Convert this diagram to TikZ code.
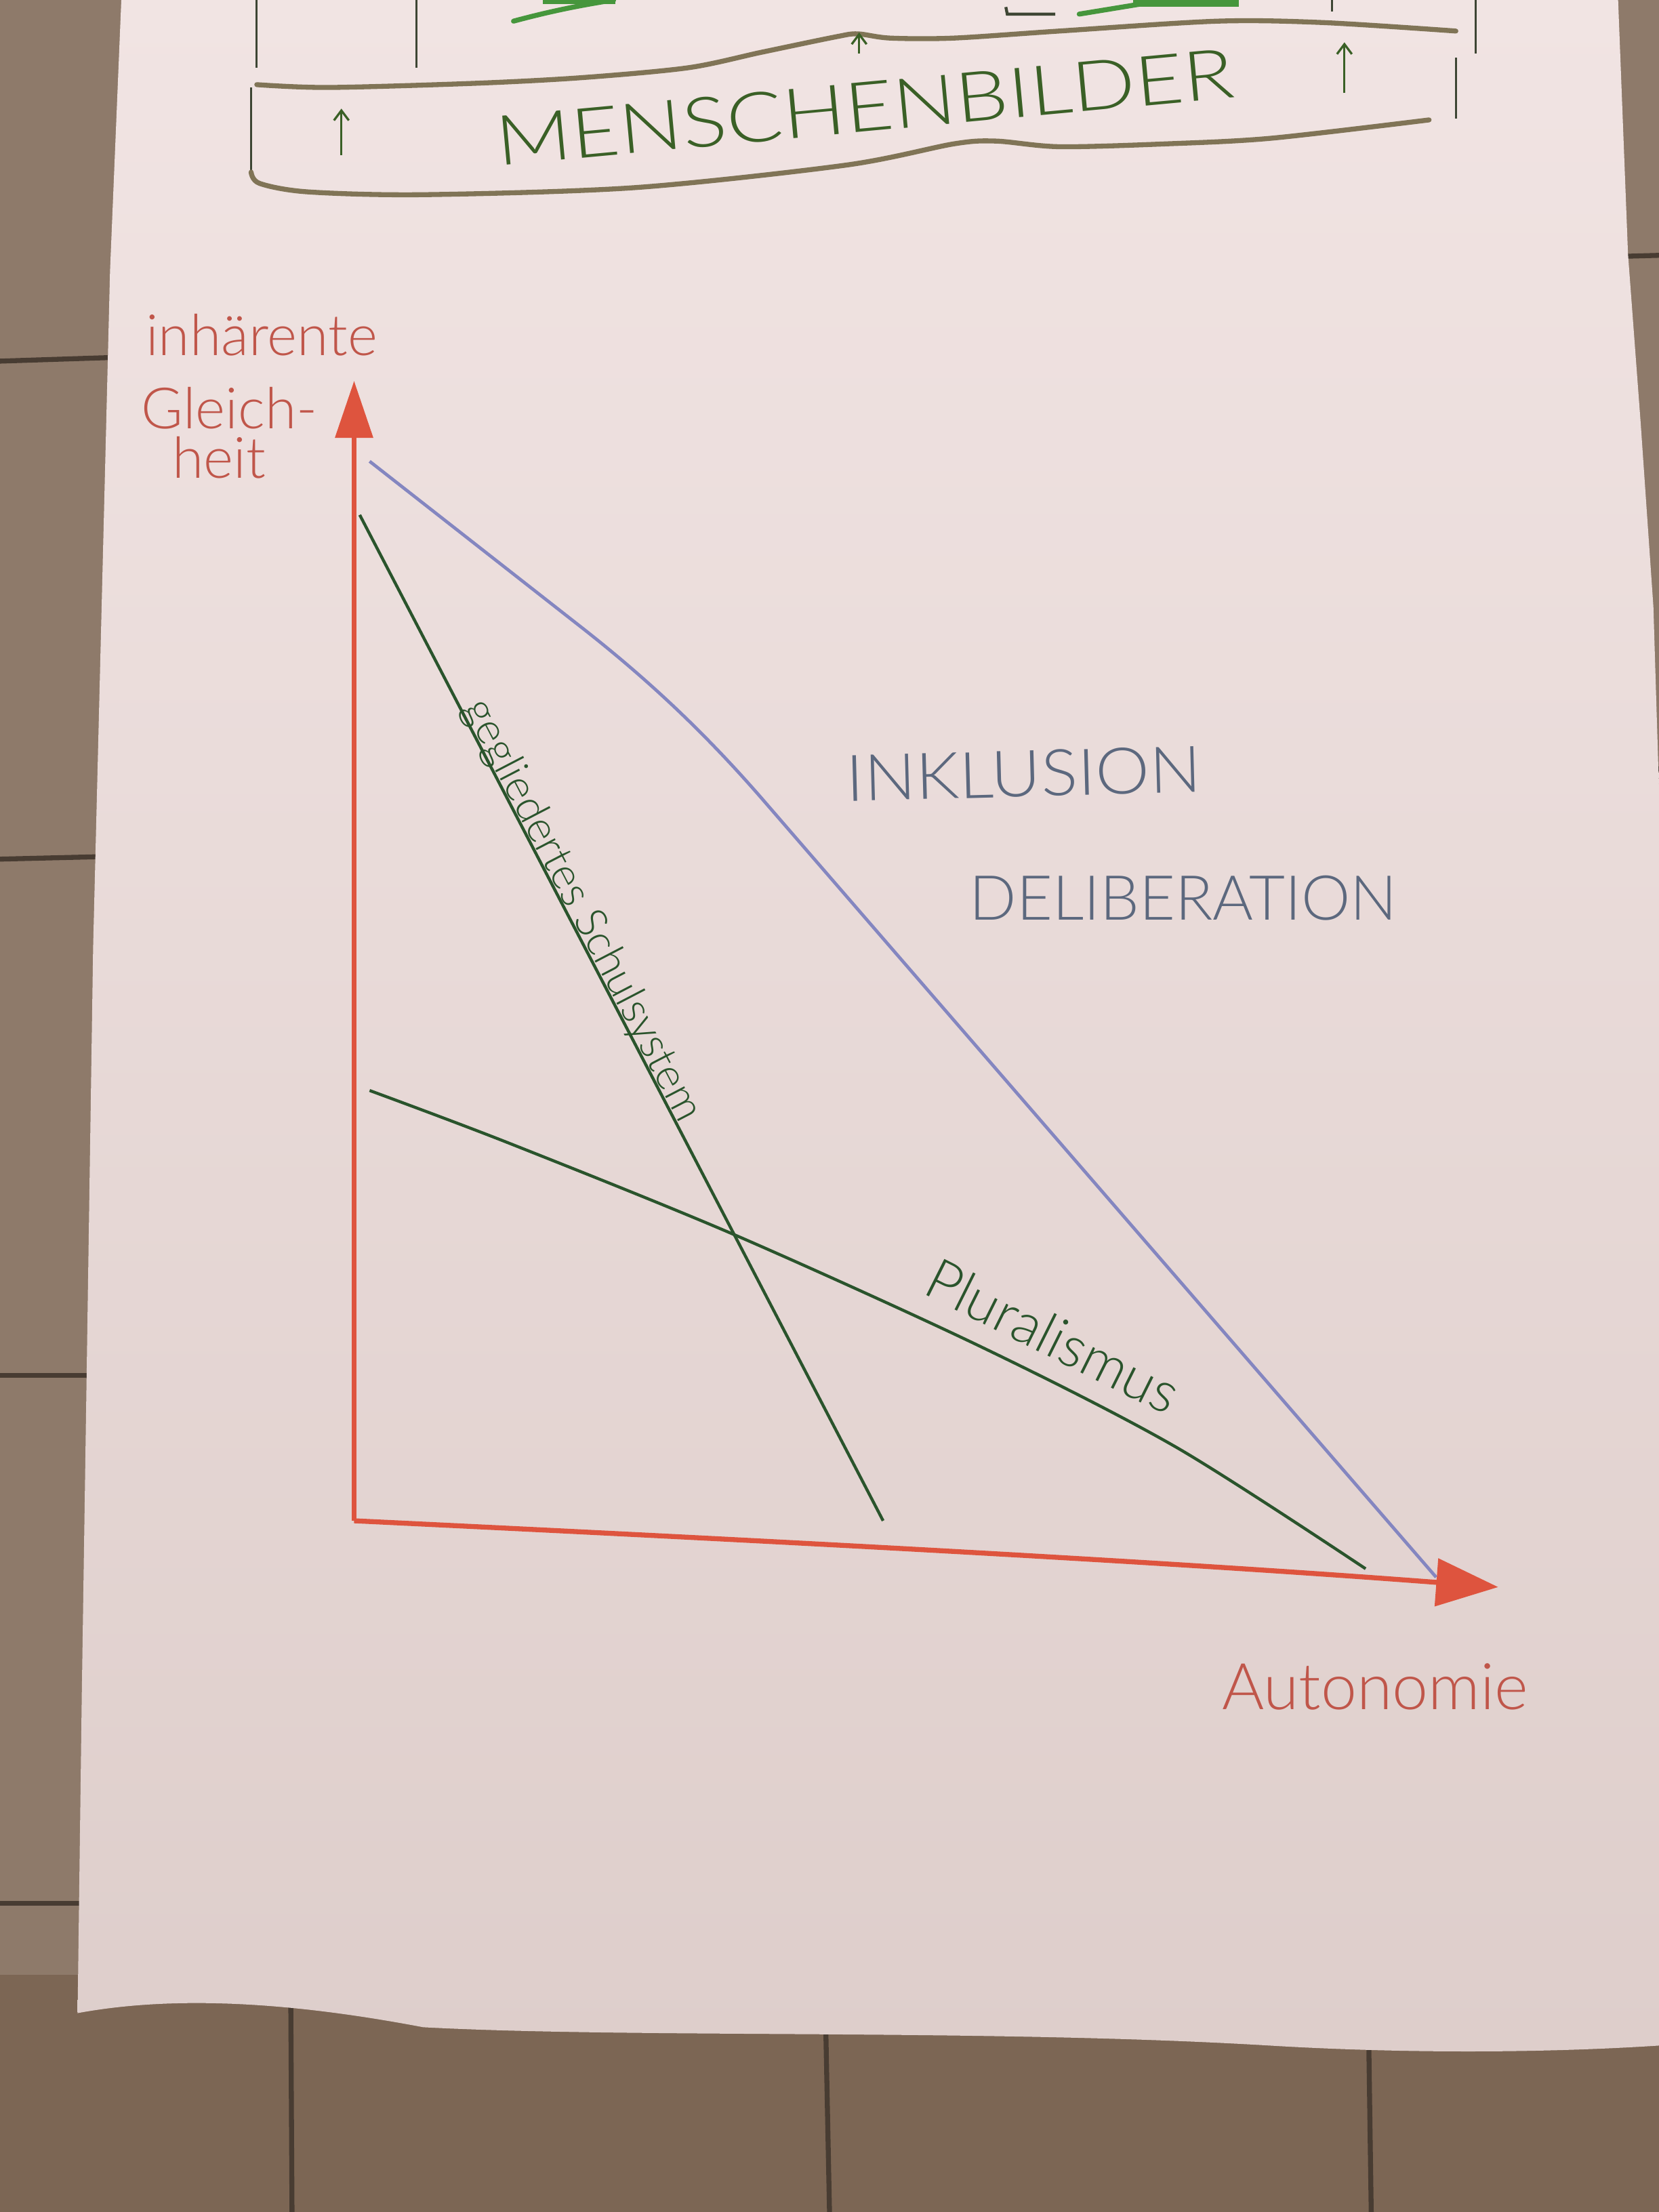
\documentclass[tikz,border=0pt]{standalone}
\usepackage{fontspec}
\setmainfont{Lato Light}
\usetikzlibrary{arrows.meta}
\definecolor{floorc}{RGB}{142,122,106}
\definecolor{floordark}{RGB}{124,102,84}
\definecolor{grout}{RGB}{72,60,50}
\definecolor{papertop}{RGB}{241,228,227}
\definecolor{paperbot}{RGB}{222,206,203}
\definecolor{axisred}{RGB}{222,84,62}
\definecolor{textred}{RGB}{192,86,74}
\definecolor{lineblue}{RGB}{132,134,192}
\definecolor{linegreen}{RGB}{42,84,44}
\definecolor{inkgray}{RGB}{92,104,126}
\definecolor{mgreen}{RGB}{58,96,38}
\definecolor{waveol}{RGB}{128,116,86}
\definecolor{markgreen}{RGB}{70,150,60}
\definecolor{thinink}{RGB}{62,70,52}
\begin{document}
\begin{tikzpicture}[x=0.02cm,y=-0.02cm,
  groutline/.style={draw=grout, line width=2pt},
  thinline/.style={draw=thinink, line width=0.8pt},
  wave/.style={draw=waveol, line width=2pt, line cap=round},
  uparrow/.style={draw=mgreen, line width=0.9pt, -{Straight Barb[length=4pt,width=6pt]}},
  axisline/.style={draw=axisred, line width=2pt},
  blueline/.style={draw=lineblue, line width=1.3pt},
  greenline/.style={draw=linegreen, line width=1.2pt},
  redlabel/.style={text=textred, inner sep=0pt},
  inklabel/.style={text=inkgray, inner sep=0pt, font=\fontsize{26}{30}\selectfont},
  greenlabel/.style={text=linegreen, inner sep=0pt},
  mlabel/.style={text=mgreen, inner sep=0pt, font=\fontsize{28}{30}\selectfont}
]
\useasboundingbox (0,0) rectangle (1176,1568);
% floor
\fill[floorc] (0,0) rectangle (1176,1568);
\fill[floordark] (0,1400) rectangle (1176,1568);
\draw[groutline] (0,256) -- (92,253);
\draw[groutline] (0,609) -- (82,607);
\draw[groutline] (0,975) -- (72,975);
\draw[groutline] (0,1349) -- (62,1349);
\draw[groutline] (1140,182) -- (1176,181);
\draw[groutline] (1160,545) -- (1176,545);
\draw[groutline] (206,1400) -- (207,1568);
\draw[groutline] (585,1420) -- (588,1568);
\draw[groutline] (970,1430) -- (972,1568);
% paper
\shade[top color=papertop, bottom color=paperbot]
  (86,0) -- (78,192) -- (66,672) -- (58,1200) -- (55,1427)
  .. controls (120,1415) and (200,1418) .. (300,1437)
  .. controls (450,1445) and (700,1438) .. (900,1450)
  .. controls (1000,1456) and (1100,1455) .. (1176,1450)
  -- (1176,560) -- (1172,430) -- (1163,300) -- (1154,180) -- (1147,0) -- cycle;
% top: cut-off drawing remains
\draw[thinline] (182,0) -- (182,48);
\draw[thinline] (295,0) -- (295,48);
\draw[thinline] (1046,0) -- (1046,38);
\draw[thinline] (1032,41) -- (1032,84);
\draw[thinline] (944,0) -- (944,8);
\draw[thinline] (178,62) -- (178,124);
\draw[draw=markgreen, line width=2pt, line cap=round] (364,15) .. controls (390,8) and (410,4) .. (435,0);
\fill[markgreen] (385,0) rectangle (436,3);
\draw[thinline, line width=1.2pt] (713,5) -- (714,10) -- (748,10);
\draw[draw=markgreen, line width=2pt, line cap=round] (765,10) -- (826,0);
\fill[markgreen] (803,0) rectangle (878,5);
% MENSCHENBILDER band
\draw[wave] plot[smooth] coordinates {(182,60) (233,62) (338,59) (413,55) (488,48) (540,37) (593,26) (608,24) (631,27) (676,27) (751,22) (863,15) (938,16) (1032,22)};
\draw[wave] plot[smooth] coordinates {(178,122) (184,130) (218,136) (300,138) (450,133) (600,117) (676,102) (706,100) (751,104) (826,102) (901,98) (1013,85)};
\coordinate (a1s) at (242,110); \coordinate (a1e) at (242,77);
\coordinate (a2s) at (609,38); \coordinate (a2e) at (609,23);
\coordinate (a3s) at (953,66); \coordinate (a3e) at (953,30);
\draw[uparrow] (a1s) -- (a1e);
\draw[uparrow] (a2s) -- (a2e);
\draw[uparrow] (a3s) -- (a3e);
\node[mlabel, rotate=5.3, xscale=1.2] (menschen) at (613,76) {MENSCHENBILDER};
% axes
\coordinate (O) at (251,1078);
\coordinate (ytip) at (251,270);
\coordinate (xtip) at (1062,1125);
\draw[axisline, -{Triangle[length=23pt,width=15pt]}] (O) -- (ytip);
\draw[axisline, -{Triangle[length=25pt,width=19pt]}] (O) .. controls (500,1090) and (800,1105) .. (xtip);
% blue line
\coordinate (b0) at (262,327);
\coordinate (b1) at (1018,1118);
\draw[blueline] (b0) -- (410,443) .. controls (460,482) and (500,520) .. (540,566) -- (b1);
% gegliedertes Schulsystem
\coordinate (g0) at (255,365);
\coordinate (g1) at (626,1078);
\draw[greenline] (g0) -- node[pos=0.40, sloped, anchor=base, yshift=1pt, greenlabel, font=\fontsize{17.5}{20}\selectfont] (schul) {gegliedertes Schulsystem} (g1);
% Pluralismus
\draw[greenline] plot[smooth] coordinates {(262,773) (360,810) (520,875) (694,954) (834,1026) (968,1112)};
\node[greenlabel, font=\fontsize{23}{26}\selectfont, rotate=-26.5, anchor=base] (plural) at (740,960) {Pluralismus};
% labels
\node[redlabel, font=\fontsize{23}{26}\selectfont, anchor=base west] (inh) at (103,252) {inhärente};
\node[redlabel, font=\fontsize{23}{26}\selectfont, anchor=base west] (gle) at (100,304) {Gleich-};
\node[redlabel, font=\fontsize{23}{26}\selectfont, anchor=base west] (heit) at (122,339) {heit};
\node[redlabel, font=\fontsize{26}{30}\selectfont, anchor=base west] (auto) at (866,1212) {Autonomie};
\node[inklabel, anchor=base west, rotate=1.5, xscale=1.06] (inkl) at (600,568) {INKLUSION};
\node[inklabel, anchor=base west, font=\fontsize{25}{30}\selectfont] (delib) at (687,652) {DELIBERATION};
\end{tikzpicture}
\end{document}
